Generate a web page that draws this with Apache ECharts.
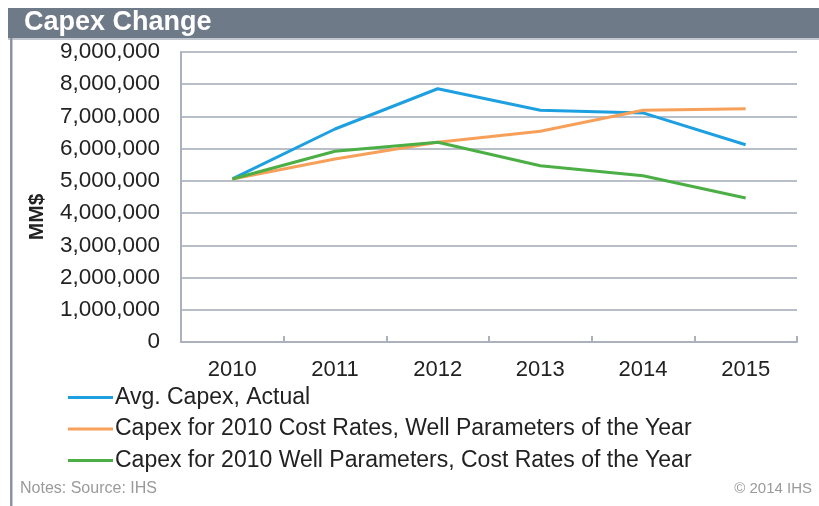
<!DOCTYPE html>
<html>
<head>
<meta charset="utf-8">
<script src="https://cdn.jsdelivr.net/npm/echarts@6/dist/echarts.min.js"></script>
<style>html,body{margin:0;padding:0;background:#fff;}#c{width:819px;height:506px;}</style>
</head>
<body>
<div id="c"></div>
<script>
var categories = ['2010', '2011', '2012', '2013', '2014', '2015'];
var avgCapexActual = [5060000, 6610000, 7860000, 7190000, 7110000, 6120000];
var capex2010CostRates = [5060000, 5680000, 6200000, 6540000, 7190000, 7240000];
var capex2010WellParams = [5060000, 5920000, 6200000, 5470000, 5160000, 4470000];
var seriesNames = ['Avg. Capex, Actual', 'Capex for 2010 Cost Rates, Well Parameters of the Year', 'Capex for 2010 Well Parameters, Cost Rates of the Year'];
var colors = ['#1ea0e0', '#f7a05a', '#4caf45'];

var chart = echarts.init(document.getElementById('c'));
var font = '"Liberation Sans", Arial, sans-serif';
function mk(name, data, color) {
  return { name: name, type: 'line', data: data, symbol: 'none', smooth: false,
    lineStyle: { color: color, width: 3 }, itemStyle: { color: color } };
}
chart.setOption({
  animation: false,
  textStyle: { fontFamily: font },
  title: { text: 'Capex Change', left: 24, top: 8, padding: 0,
    textStyle: { color: '#ffffff', fontSize: 27, fontWeight: 'bold', fontFamily: font, lineHeight: 30 } },
  graphic: [
    { type: 'rect', shape: { x: 8, y: 8, width: 811, height: 30 }, style: { fill: '#6f7a88' }, z: -1 },
    { type: 'rect', shape: { x: 8, y: 38, width: 811, height: 2 }, style: { fill: '#c3c8d0' }, z: -1 },
    { type: 'rect', shape: { x: 10, y: 38, width: 2.5, height: 468 }, style: { fill: '#8d93a0' }, z: -1 },
    { type: 'text', x: 37, y: 217, rotation: Math.PI / 2,
      style: { text: 'MM$', fill: '#222', font: 'bold 21px ' + font, align: 'center', verticalAlign: 'middle' } },
    { type: 'text', left: 20, top: 481, style: { text: 'Notes: Source: IHS', fill: '#9a9a9a', font: '16px ' + font } },
    { type: 'text', right: 7, top: 481, style: { text: '\u00a9 2014 IHS', fill: '#9a9a9a', font: '15px ' + font } }
  ],
  grid: { left: 181, right: 22, top: 52, bottom: 164, containLabel: false },
  legend: {
    orient: 'vertical', left: 68, top: 386, padding: 0,
    itemWidth: 45, itemHeight: 3, itemGap: 8.5, icon: 'rect',
    data: seriesNames,
    textStyle: { fontSize: 23, color: '#222', fontFamily: font, padding: [0, 0, 0, -3], lineHeight: 23 }
  },
  xAxis: {
    type: 'category', data: categories, boundaryGap: true,
    axisLine: { lineStyle: { color: '#aab1bc', width: 2 } },
    axisTick: { show: true, inside: true, length: 6, lineStyle: { color: '#aab1bc', width: 2 } },
    axisLabel: { fontSize: 22, color: '#222', margin: 17, fontFamily: font }
  },
  yAxis: {
    type: 'value', min: 0, max: 9000000, interval: 1000000,
    axisLine: { show: true, lineStyle: { color: '#aab1bc', width: 2 } },
    axisTick: { show: false },
    splitLine: { lineStyle: { color: '#b9bfc8', width: 2 } },
    axisLabel: { fontSize: 22.5, color: '#222', margin: 21, fontFamily: font,
      formatter: function (v) { return v.toString().replace(/\B(?=(\d{3})+(?!\d))/g, ','); } }
  },
  series: [
    mk(seriesNames[0], avgCapexActual, colors[0]),
    mk(seriesNames[1], capex2010CostRates, colors[1]),
    mk(seriesNames[2], capex2010WellParams, colors[2])
  ]
});
</script>
</body>
</html>
